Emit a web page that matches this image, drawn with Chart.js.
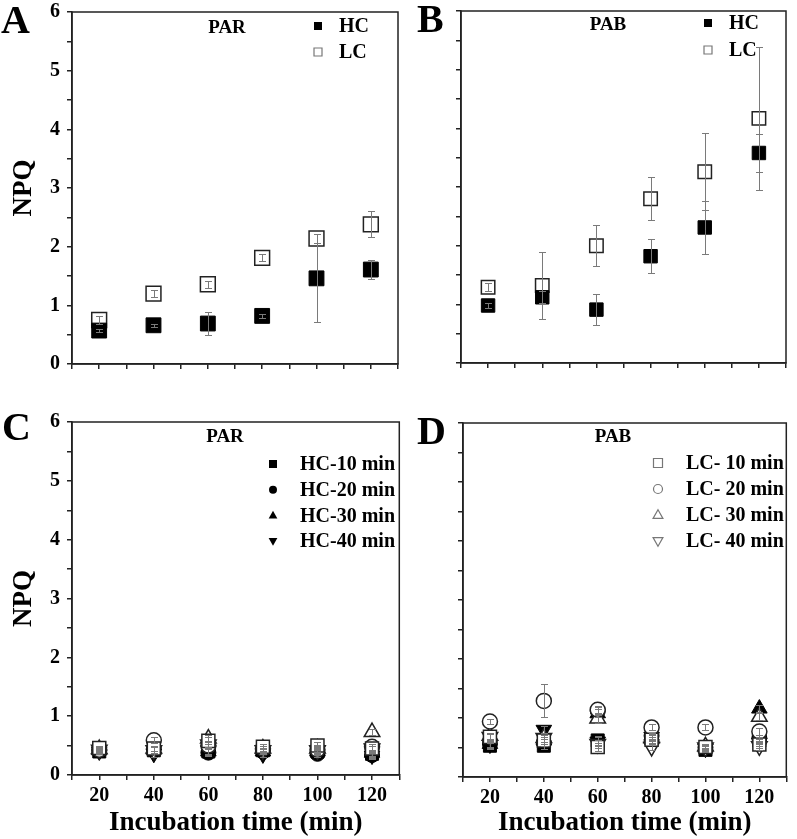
<!DOCTYPE html>
<html>
<head>
<meta charset="utf-8">
<script src="https://cdn.jsdelivr.net/npm/chart.js@4.4.0/dist/chart.umd.min.js"></script>
<style>
body { margin: 0; background: #fff; }
#wrap { position: relative; width: 797px; height: 839px; }
canvas { position: absolute; }
</style>
</head>
<body>
<div id="wrap">
<canvas id="panelA" width="410" height="400" style="left:0;top:0"></canvas>
<canvas id="panelB" width="397" height="400" style="left:400px;top:0"></canvas>
<canvas id="panelC" width="410" height="439" style="left:0;top:400px"></canvas>
<canvas id="panelD" width="397" height="439" style="left:400px;top:400px"></canvas>
</div>
<script>
var times = [20, 40, 60, 80, 100, 120];

// A - PAR
var parHC = [0.57, 0.66, 0.69, 0.82, 1.46, 1.61];
var parHCErr = [0.03, 0.03, 0.20, 0.03, 0.75, 0.16];
var parLC = [0.75, 1.20, 1.36, 1.81, 2.14, 2.38];
var parLCErr = [0.06, 0.06, 0.06, 0.06, 0.08, 0.22];

// B - PAB
var pabHC = [0.98, 1.12, 0.91, 1.82, 2.31, 3.58];
var pabHCErr = [0.04, 0.10, 0.26, 0.29, 0.45, 0.32];
var pabLC = [1.29, 1.32, 2.00, 2.80, 3.26, 4.17];
var pabLCErr = [0.07, 0.57, 0.35, 0.37, 0.66, 1.22];

// C - PAR, by exposure time
var parHC10 = [0.40, 0.42, 0.40, 0.42, 0.40, 0.36];
var parHC20 = [0.42, 0.45, 0.38, 0.40, 0.36, 0.34];
var parHC30 = [0.42, 0.43, 0.40, 0.40, 0.40, 0.38];
var parHC40 = [0.40, 0.36, 0.42, 0.35, 0.42, 0.33];
var parLC10 = [0.46, 0.45, 0.58, 0.48, 0.50, 0.45];
var parLC20 = [0.43, 0.59, 0.50, 0.45, 0.43, 0.48];
var parLC30 = [0.44, 0.45, 0.62, 0.45, 0.45, 0.73];
var parLC40 = [0.43, 0.42, 0.52, 0.42, 0.42, 0.45];
var parSmallErr = [0.04, 0.05, 0.06, 0.04, 0.06, 0.05];

// D - PAB, by exposure time
var pabHC10 = [0.53, 0.53, 0.62, 0.66, 0.46, 0.62];
var pabHC20 = [0.56, 0.58, 1.12, 0.70, 0.50, 0.66];
var pabHC30 = [0.56, 0.62, 1.08, 0.70, 0.50, 1.16];
var pabHC40 = [0.55, 0.80, 0.60, 0.68, 0.48, 0.58];
var pabLC10 = [0.68, 0.62, 0.51, 0.63, 0.51, 0.55];
var pabLC20 = [0.94, 1.29, 1.14, 0.84, 0.84, 0.77];
var pabLC30 = [0.70, 0.66, 0.99, 0.66, 0.52, 1.02];
var pabLC40 = [0.68, 0.66, 0.56, 0.51, 0.50, 0.52];
var pabLC20Err = [0.05, 0.28, 0.06, 0.05, 0.05, 0.06];
var pabSmallErr = [0.05, 0.06, 0.07, 0.05, 0.04, 0.06];

var SERIF = "'Liberation Serif', 'Times New Roman', serif";

function series(label, values, errors, style, filled, radius, rot) {
  return {
    label: label,
    data: times.map(function (t, i) { return { x: t, y: values[i] }; }),
    errors: errors,
    pointStyle: style,
    pointRotation: rot || 0,
    pointRadius: radius,
    pointHoverRadius: radius,
    pointBackgroundColor: filled ? '#000' : '#fff',
    pointBorderColor: filled ? '#000' : '#222',
    pointBorderWidth: filled ? 1 : 1.5,
    showLine: false
  };
}

function shape(ctx, style, rot, x, y, r) {
  ctx.beginPath();
  if (style === 'rect') {
    ctx.rect(x - r, y - r, 2 * r, 2 * r);
  } else if (style === 'circle') {
    ctx.arc(x, y, r, 0, Math.PI * 2);
  } else {
    var s = rot ? -1 : 1;
    var h = r * 1.15;
    ctx.moveTo(x, y - s * h);
    ctx.lineTo(x + h * 0.95, y + s * h * 0.65);
    ctx.lineTo(x - h * 0.95, y + s * h * 0.65);
    ctx.closePath();
  }
}

var errorPlugin = {
  id: 'errorBars',
  afterDatasetsDraw: function (chart) {
    var ctx = chart.ctx, xs = chart.scales.x, ys = chart.scales.y;
    ctx.save();
    ctx.strokeStyle = '#7a7a7a';
    ctx.lineWidth = 1;
    chart.data.datasets.forEach(function (ds) {
      if (!ds.errors) return;
      ds.data.forEach(function (p, i) {
        var e = ds.errors[i];
        if (!e) return;
        var px = Math.round(xs.getPixelForValue(p.x)) + 0.5;
        var top = Math.round(ys.getPixelForValue(p.y + e)) + 0.5;
        var bot = Math.round(ys.getPixelForValue(p.y - e)) + 0.5;
        ctx.beginPath();
        ctx.moveTo(px, top); ctx.lineTo(px, bot);
        ctx.moveTo(px - 3.5, top); ctx.lineTo(px + 3.5, top);
        ctx.moveTo(px - 3.5, bot); ctx.lineTo(px + 3.5, bot);
        ctx.stroke();
      });
    });
    ctx.restore();
  }
};

var decoPlugin = {
  id: 'deco',
  afterDraw: function (chart, args, o) {
    var ctx = chart.ctx, a = chart.chartArea;
    ctx.save();
    ctx.strokeStyle = '#222';
    ctx.lineWidth = 1.5;
    ctx.strokeRect(a.left, a.top, a.right - a.left, a.bottom - a.top);

    ctx.fillStyle = '#000';
    ctx.font = 'bold 40px ' + SERIF;
    ctx.textAlign = 'left';
    ctx.textBaseline = 'alphabetic';
    ctx.fillText(o.letter, o.letterX, o.letterY);

    ctx.font = 'bold 19px ' + SERIF;
    ctx.textAlign = 'center';
    ctx.textBaseline = 'middle';
    ctx.fillText(o.tag, o.tagX, o.tagY);

    ctx.font = 'bold ' + o.legendSize + 'px ' + SERIF;
    ctx.textAlign = 'left';
    (o.items || []).forEach(function (idx, row) {
      var ds = chart.data.datasets[idx];
      var y = o.legendY + row * o.legendStep;
      var filled = ds.pointBackgroundColor === '#000';
      shape(ctx, ds.pointStyle, ds.pointRotation, o.legendX, y, o.markerR);
      if (filled) {
        ctx.fillStyle = '#000';
        ctx.fill();
      } else {
        ctx.fillStyle = '#fff';
        ctx.fill();
        ctx.strokeStyle = '#777';
        ctx.lineWidth = 1.2;
        ctx.stroke();
      }
      ctx.fillStyle = '#000';
      ctx.fillText(ds.label, o.textX, y + 1);
    });
    ctx.restore();
  }
};

function noPad(s) {
  s.paddingTop = 0;
  s.paddingBottom = 0;
  s.paddingLeft = 0;
  s.paddingRight = 0;
}

function makeChart(id, datasets, cfg) {
  var tickFont = { family: SERIF, size: 20, weight: 'bold' };
  return new Chart(document.getElementById(id), {
    type: 'scatter',
    data: { datasets: datasets },
    plugins: [errorPlugin, decoPlugin],
    options: {
      responsive: false,
      animation: false,
      events: [],
      layout: { padding: { top: cfg.top, right: cfg.right, left: 0, bottom: 0 } },
      scales: {
        x: {
          type: 'linear', min: 10, max: 130,
          ticks: {
            stepSize: 10, autoSkip: false, maxRotation: 0, padding: 4, color: '#000', font: tickFont,
            callback: function (v) { return cfg.xLabels && v % 20 === 0 && v >= 20 && v <= 120 ? String(v) : ''; }
          },
          grid: { drawOnChartArea: false, tickLength: 5, color: '#222', lineWidth: 1.5 },
          border: { color: '#222', width: 1.5 },
          title: {
            display: cfg.xLabels, text: 'Incubation time (min)', color: '#000',
            font: { family: SERIF, size: 27, weight: 'bold' }, padding: { top: 0, bottom: 0 }
          },
          afterFit: function (s) { s.height = cfg.xHeight; noPad(s); }
        },
        y: {
          type: 'linear', min: 0, max: 6,
          ticks: {
            stepSize: 0.5, autoSkip: false, padding: 7, color: '#000', font: tickFont,
            callback: function (v) { return cfg.yLabels && Number.isInteger(v) ? String(v) : ''; }
          },
          grid: { drawOnChartArea: false, tickLength: 5, color: '#222', lineWidth: 1.5 },
          border: { color: '#222', width: 1.5 },
          title: {
            display: cfg.yLabels, text: 'NPQ', color: '#000',
            font: { family: SERIF, size: 27, weight: 'bold' }, padding: { top: 8, bottom: 0 }
          },
          afterFit: function (s) { s.width = cfg.yWidth; noPad(s); }
        }
      },
      plugins: {
        legend: { display: false },
        tooltip: { enabled: false },
        deco: cfg.deco
      }
    }
  });
}

makeChart('panelA', [
  series('HC', parHC, parHCErr, 'rect', true, 10.5),
  series('LC', parLC, parLCErr, 'rect', false, 10.5)
], {
  top: 11, right: 8, xHeight: 36, yWidth: 72, xLabels: false, yLabels: true,
  deco: { letter: 'A', letterX: 1, letterY: 33, tag: 'PAR', tagX: 227, tagY: 28,
    legendX: 318, legendY: 26, legendStep: 26, textX: 339, legendSize: 20, markerR: 4,
    items: [0, 1] }
});

makeChart('panelB', [
  series('HC', pabHC, pabHCErr, 'rect', true, 9.5),
  series('LC', pabLC, pabLCErr, 'rect', false, 9.5)
], {
  top: 9, right: 5, xHeight: 37, yWidth: 61, xLabels: false, yLabels: false,
  deco: { letter: 'B', letterX: 17, letterY: 32, tag: 'PAB', tagX: 208, tagY: 25,
    legendX: 308, legendY: 23, legendStep: 27, textX: 329, legendSize: 20, markerR: 4,
    items: [0, 1] }
});

makeChart('panelC', [
  series('LC-10 min', parLC10, parSmallErr, 'rect', false, 9.2),
  series('LC-20 min', parLC20, parSmallErr, 'circle', false, 7.5),
  series('LC-30 min', parLC30, parSmallErr, 'triangle', false, 9),
  series('LC-40 min', parLC40, parSmallErr, 'triangle', false, 9, 180),
  series('HC-10 min', parHC10, parSmallErr, 'rect', true, 9.2),
  series('HC-20 min', parHC20, parSmallErr, 'circle', true, 7.5),
  series('HC-30 min', parHC30, parSmallErr, 'triangle', true, 9),
  series('HC-40 min', parHC40, parSmallErr, 'triangle', true, 9, 180)
], {
  top: 22, right: 8, xHeight: 64, yWidth: 72, xLabels: true, yLabels: true,
  deco: { letter: 'C', letterX: 2, letterY: 40, tag: 'PAR', tagX: 225, tagY: 37,
    legendX: 273, legendY: 64, legendStep: 25.7, textX: 300, legendSize: 20, markerR: 4,
    items: [4, 5, 6, 7] }
});

makeChart('panelD', [
  series('LC- 10 min', pabLC10, pabSmallErr, 'rect', false, 9.2),
  series('LC- 20 min', pabLC20, pabLC20Err, 'circle', false, 7.5),
  series('LC- 30 min', pabLC30, pabSmallErr, 'triangle', false, 9),
  series('LC- 40 min', pabLC40, pabSmallErr, 'triangle', false, 9, 180),
  series('HC-10 min', pabHC10, pabSmallErr, 'rect', true, 9.2),
  series('HC-20 min', pabHC20, pabSmallErr, 'circle', true, 7.5),
  series('HC-30 min', pabHC30, pabSmallErr, 'triangle', true, 9),
  series('HC-40 min', pabHC40, pabSmallErr, 'triangle', true, 9, 180)
], {
  top: 23, right: 4, xHeight: 62, yWidth: 63, xLabels: true, yLabels: false,
  deco: { letter: 'D', letterX: 17, letterY: 44, tag: 'PAB', tagX: 213, tagY: 37,
    legendX: 258, legendY: 63, legendStep: 26, textX: 286, legendSize: 20, markerR: 4.5,
    items: [0, 1, 2, 3] }
});
</script>
</body>
</html>
